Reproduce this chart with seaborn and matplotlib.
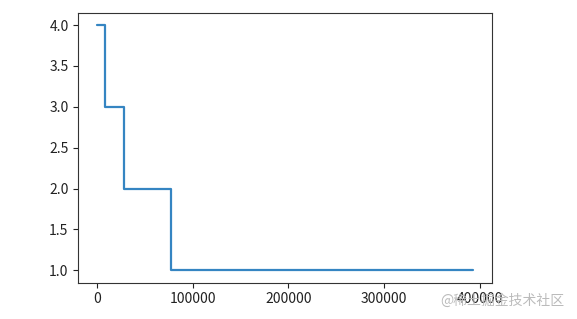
import matplotlib
matplotlib.use("Agg")
import matplotlib.pyplot as plt
import seaborn as sns
import pandas as pd

x_vals = [0, 7900, 28500, 77600, 393500]
y_vals = [4, 3, 2, 1, 1]
watermark = "@稀土掘金技术社区"

sns.set_style("ticks")
plt.rcParams['font.family'] = ['Noto Sans CJK SC', 'DejaVu Sans']

df = pd.DataFrame({"x": x_vals, "y": y_vals})
fig = plt.figure(figsize=(5.77, 3.19), dpi=100)
ax = fig.add_axes([0.1357, 0.114, 0.7175, 0.846])
sns.lineplot(data=df, x="x", y="y", drawstyle="steps-post", color="#3585c2", linewidth=1.6, ax=ax)
ax.set_xlabel("")
ax.set_ylabel("")
ax.set_yticks([1.0, 1.5, 2.0, 2.5, 3.0, 3.5, 4.0])
ax.set_yticklabels(["1.0", "1.5", "2.0", "2.5", "3.0", "3.5", "4.0"])
ax.set_xticks([0, 100000, 200000, 300000, 400000])
ax.set_xticklabels(["0", "100000", "200000", "300000", "400000"])
ax.tick_params(labelsize=10, colors="#222222", length=3.5)
for s in ax.spines.values():
    s.set_visible(True)
    s.set_color("#333333")
    s.set_linewidth(0.8)
fig.text(0.978, 0.058, watermark, ha="right", va="center", fontsize=10, color="#bbbbbb")
fig.savefig("out.png", dpi=100)
